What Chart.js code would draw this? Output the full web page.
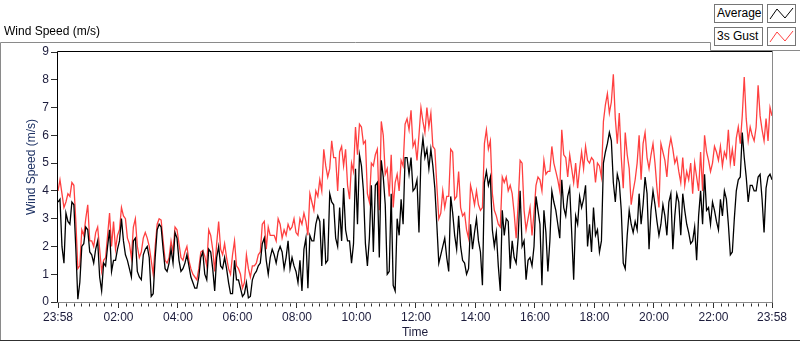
<!DOCTYPE html>
<html>
<head>
<meta charset="utf-8">
<script src="https://cdn.jsdelivr.net/npm/chart.js@4.4.1/dist/chart.umd.min.js"></script>
<style>
html, body { margin: 0; padding: 0; background: #fff; }
#wrap { position: relative; width: 800px; height: 342px; overflow: hidden; font-family: "Liberation Sans", Arial, sans-serif; }
#c { position: absolute; left: 0; top: 0; }
.lbl { position: absolute; font-size: 12px; color: #000; white-space: nowrap; line-height: 16px; }
.box { position: absolute; border: 1px solid #767676; background: #fff; box-sizing: border-box; }
.box.txt { font-size: 12px; line-height: 16px; padding-left: 2px; color: #000; }
.box svg { position: absolute; left: 0; top: 0; }
</style>
</head>
<body>
<div id="wrap">
  <canvas id="c" width="800" height="342"></canvas>
  <div class="lbl" style="left:4px;top:23px;">Wind Speed (m/s)</div>
  <div class="box txt" style="left:714px;top:4px;width:49px;height:19px;">Average</div>
  <div class="box" style="left:767px;top:4px;width:29px;height:19px;">
    <svg width="27" height="17"><polyline points="2,14 9,4 17,13 25,3" fill="none" stroke="#000" stroke-width="1"/></svg>
  </div>
  <div class="box txt" style="left:714px;top:27px;width:49px;height:19px;">3s Gust</div>
  <div class="box" style="left:767px;top:27px;width:29px;height:19px;">
    <svg width="27" height="17"><polyline points="2,14 9,4 17,13 25,3" fill="none" stroke="#ff4040" stroke-width="1"/></svg>
  </div>
</div>
<script>
"use strict";
// one sample every 4 minutes, from 23:58 (prev day) to 23:58
const START_MIN = -2;
const STEP_MIN = 4;

const avgSpeed = [
  3.6, 3.7, 2.0, 1.4, 3.2, 2.9, 2.8, 3.6, 3.5, 1.9,
  0.1, 0.7, 2.0, 2.1, 2.7, 2.6, 1.8, 1.7, 1.4, 1.9,
  2.2, 0.9, 0.4, 1.4, 1.3, 2.0, 2.6, 1.1, 1.5, 1.5,
  1.9, 2.2, 3.0, 2.2, 1.7, 1.5, 1.2, 0.9, 2.2, 2.3,
  1.1, 0.9, 0.8, 1.7, 1.9, 2.0, 1.6, 0.2, 0.3, 1.6,
  2.6, 2.8, 2.7, 1.9, 1.2, 1.1, 1.4, 1.9, 1.4, 2.5,
  2.3, 1.5, 1.1, 1.2, 1.4, 1.7, 1.3, 0.9, 0.7, 0.5,
  0.5, 0.9, 1.6, 1.8, 1.0, 0.8, 1.9, 1.8, 1.2, 0.4,
  1.6, 2.0, 1.3, 1.2, 1.6, 1.2, 0.7, 0.3, 0.3, 1.5,
  0.8, 0.8, 0.5, 0.2, 0.3, 0.7, 0.15, 0.2, 0.8, 1.0,
  1.1, 1.3, 1.4, 2.1, 2.3, 1.5, 1.0, 1.6, 1.9, 1.7,
  1.4, 1.8, 2.0, 1.8, 1.2, 1.6, 2.2, 1.2, 1.6, 1.3,
  1.1, 0.7, 1.5, 0.4, 1.9, 2.3, 0.5, 2.4, 2.2, 2.2,
  2.8, 3.1, 2.9, 1.3, 3.0, 1.4, 1.5, 3.9, 3.6, 3.5,
  2.3, 2.0, 3.4, 2.2, 4.1, 2.6, 2.2, 2.2, 1.4, 2.1,
  4.8, 2.8, 5.3, 4.9, 4.0, 2.1, 1.3, 2.3, 4.2, 1.8,
  4.2, 4.3, 1.6, 5.1, 4.5, 3.5, 1.0, 1.1, 3.9, 0.6,
  0.4, 3.0, 2.4, 3.7, 2.8, 5.2, 5.2, 4.6, 5.2, 4.0,
  4.1, 4.4, 2.5, 5.2, 5.9, 5.2, 5.5, 4.8, 5.5, 4.9,
  4.1, 2.8, 1.4, 1.7, 2.0, 2.3, 1.6, 1.1, 3.8, 3.2,
  2.4, 1.9, 3.1, 2.0, 1.5, 1.4, 1.0, 1.2, 2.8, 1.9,
  2.5, 3.0, 2.2, 1.8, 0.6, 4.3, 4.7, 4.2, 4.5, 2.6,
  2.0, 2.5, 1.3, 0.4, 3.3, 2.4, 3.0, 2.9, 1.2, 2.2,
  1.6, 1.4, 2.3, 4.0, 2.0, 2.2, 0.8, 1.5, 1.6, 1.3,
  2.0, 3.8, 3.3, 2.8, 0.6, 3.3, 2.5, 1.1, 2.2, 4.0,
  3.6, 3.3, 2.8, 2.3, 4.4, 3.4, 3.1, 3.8, 4.1, 2.5,
  0.8, 3.1, 2.8, 3.8, 3.4, 3.7, 4.2, 2.0, 2.8, 1.8,
  3.4, 2.4, 2.6, 1.8, 2.2, 5.0, 5.4, 5.7, 6.1, 5.8,
  4.3, 3.6, 4.6, 4.3, 3.3, 1.4, 1.2, 2.4, 3.3, 2.8,
  2.5, 2.9, 2.6, 3.9, 2.8, 3.5, 4.5, 3.9, 1.9, 3.3,
  4.0, 3.5, 2.9, 2.4, 2.8, 3.5, 3.1, 2.4, 3.6, 3.9,
  1.9, 3.1, 3.9, 3.6, 2.4, 3.9, 3.3, 2.8, 2.5, 2.1,
  2.2, 2.7, 1.5, 3.1, 4.0, 2.8, 4.6, 3.3, 3.4, 2.8,
  3.6, 3.3, 2.9, 2.6, 3.7, 3.1, 4.0, 3.7, 2.8, 1.7,
  1.8, 3.0, 4.0, 4.4, 4.5, 6.1, 5.2, 4.5, 3.6, 4.2,
  4.2, 4.0, 4.0, 4.5, 4.6, 3.7, 2.5, 4.1, 4.5, 4.6,
  4.4
];

const gustSpeed = [
  4.0, 4.4, 3.9, 3.4, 3.6, 3.9, 3.8, 4.3, 4.2, 2.9,
  1.2, 1.3, 2.6, 2.4, 3.0, 3.5, 2.2, 2.2, 2.0, 2.5,
  2.7, 1.9, 1.1, 1.5, 1.6, 2.4, 3.2, 2.0, 2.9, 1.9,
  2.4, 2.6, 3.4, 3.1, 3.0, 2.3, 2.1, 1.6, 2.7, 3.0,
  2.0, 1.6, 1.8, 2.3, 2.5, 2.3, 2.0, 1.5, 1.0, 2.0,
  2.8, 3.0, 2.95, 2.2, 1.5, 1.4, 1.6, 2.2, 1.8, 2.7,
  2.6, 2.1, 1.6, 1.5, 1.8, 2.0, 1.5, 1.2, 1.0, 0.9,
  0.8, 1.2, 1.8, 1.85, 1.65, 1.3, 2.6, 2.4, 1.9, 1.1,
  2.1, 2.9, 1.9, 1.7, 2.1, 1.6, 1.2, 1.0, 1.7, 2.2,
  1.3, 1.2, 1.0, 0.5, 0.7, 1.7, 1.2, 0.9, 1.3, 1.3,
  1.4, 1.7, 1.8, 2.8, 2.9, 1.9, 2.7, 2.4, 2.4, 2.4,
  2.2, 3.0, 2.8, 2.3, 2.6, 2.4, 2.8, 2.6, 2.7, 3.0,
  2.5, 2.4, 3.0, 2.8, 3.2, 2.9, 2.4, 3.9, 3.6, 3.3,
  4.0, 3.8, 4.4, 4.0, 5.5, 4.9, 4.5, 4.8, 5.8, 5.2,
  5.2, 4.0, 5.4, 5.6, 4.9, 5.5, 4.2, 3.7, 5.0, 4.7,
  6.3, 5.3, 6.4, 6.3, 5.7, 5.8, 3.9, 3.6, 5.0, 4.9,
  5.3, 5.5, 3.3, 6.5, 6.0, 4.6, 4.8, 3.8, 5.3, 3.4,
  4.3, 4.6, 4.0, 5.1, 4.9, 6.4, 6.6, 6.2, 6.9, 5.6,
  5.8, 5.1, 6.0, 7.0, 6.5, 6.1, 7.0, 6.3, 6.8, 5.6,
  5.5, 4.2, 3.0, 3.2, 4.0, 3.4, 3.8, 3.8, 5.5, 5.4,
  3.7, 3.8, 4.7, 3.4, 3.1, 3.2, 2.6, 2.3, 4.2, 3.9,
  3.5, 4.0, 3.5, 3.3, 3.4, 5.7, 6.2, 5.5, 5.8, 3.9,
  3.3, 3.1, 2.8, 2.7, 4.5, 4.3, 4.5, 4.0, 4.2, 3.9,
  3.2, 2.3, 3.5, 5.1, 5.0, 3.3, 2.6, 3.0, 3.4, 2.4,
  3.2, 4.2, 4.5, 4.4, 4.0, 5.1, 4.6, 4.7, 4.7, 5.6,
  5.0, 4.7, 4.4, 4.0, 6.2, 5.3, 5.2, 4.5, 5.3, 4.8,
  4.3, 5.0, 4.1, 4.8, 5.4, 4.8, 5.6, 5.1, 5.0, 5.2,
  5.1, 4.3, 5.0, 4.9, 4.5, 6.5, 7.1, 7.5, 6.8, 7.2,
  8.2, 6.6, 5.7, 6.8, 5.2, 4.1, 6.1, 5.3, 4.8, 3.5,
  4.0, 4.4, 5.0, 6.0, 4.4, 5.7, 6.1, 5.2, 4.8, 5.3,
  5.7, 5.0, 4.1, 3.4, 5.7, 5.4, 5.1, 4.5, 5.5, 5.9,
  5.5, 5.0, 5.2, 4.7, 4.3, 5.2, 4.2, 4.7, 4.4, 5.0,
  3.9, 5.0, 4.5, 4.0, 5.4, 4.0, 6.0, 5.4, 5.1, 4.7,
  5.0, 5.6, 5.4, 5.1, 5.6, 4.9, 5.4, 5.2, 6.2, 5.0,
  5.5, 4.9, 5.9, 6.3, 5.7, 6.7, 8.1, 6.6, 5.8, 6.3,
  6.0, 5.8, 6.3, 7.8, 6.7, 6.2, 5.8, 6.6, 5.8, 7.0,
  6.7
];

const tickMinutes = [-2, 120, 240, 360, 480, 600, 720, 840, 960, 1080, 1200, 1320, 1438];
const tickLabels = ["23:58", "02:00", "04:00", "06:00", "08:00", "10:00", "12:00", "14:00", "16:00", "18:00", "20:00", "22:00", "23:58"];
const yTicks = [0, 1, 2, 3, 4, 5, 6, 7, 8, 9];

const times = avgSpeed.map((_, i) => START_MIN + i * STEP_MIN);
const toPoints = arr => arr.map((v, i) => ({ x: times[i], y: v }));

const FONT = "'Liberation Sans', Arial, sans-serif";
const TICK_COLOR = "#1c1c3c";

// frame lines, y title and minor time ticks, LabVIEW style
const framePlugin = {
  id: "frame",
  afterDraw(chart) {
    const { ctx, chartArea: a } = chart;
    const xs = chart.scales.x;
    ctx.save();
    ctx.lineWidth = 1;
    // outer panel
    ctx.strokeStyle = "#8a8a8a";
    ctx.beginPath();
    ctx.moveTo(0.5, 341);
    ctx.lineTo(0.5, 42.5);
    ctx.lineTo(710.5, 42.5);
    ctx.lineTo(710.5, 50.5);
    ctx.lineTo(800, 50.5);
    ctx.stroke();
    ctx.strokeStyle = "#303030";
    ctx.beginPath();
    ctx.moveTo(0, 340.5);
    ctx.lineTo(800, 340.5);
    ctx.stroke();
    // plot area border
    const l = Math.round(a.left) - 0.5, t = Math.round(a.top) - 0.5;
    const r = Math.round(a.right) + 0.5, b = Math.round(a.bottom) + 0.5;
    ctx.strokeStyle = "#000";
    ctx.beginPath();
    ctx.moveTo(l, b);
    ctx.lineTo(l, t);
    ctx.lineTo(r, t);
    ctx.stroke();
    ctx.strokeStyle = "#8a8a8a";
    ctx.beginPath();
    ctx.moveTo(r, t);
    ctx.lineTo(r, b);
    ctx.lineTo(l, b);
    ctx.stroke();
    // minor ticks every 15 minutes
    ctx.strokeStyle = "#303030";
    ctx.beginPath();
    for (let m = 0; m < 1438; m += 15) {
      if (tickMinutes.some(tm => Math.abs(tm - m) < 5)) continue;
      const px = Math.round(xs.getPixelForValue(m)) + 0.5;
      ctx.moveTo(px, b + 1);
      ctx.lineTo(px, b + 4);
    }
    ctx.stroke();
    // y axis title
    ctx.translate(32, 167);
    ctx.rotate(-Math.PI / 2);
    ctx.fillStyle = "#1e3264";
    ctx.font = "12px " + FONT;
    ctx.textAlign = "center";
    ctx.textBaseline = "middle";
    ctx.fillText("Wind Speed (m/s)", 0, 0);
    ctx.restore();
  }
};

const ctx = document.getElementById("c").getContext("2d");
new Chart(ctx, {
  type: "line",
  data: {
    datasets: [
      { label: "Average", data: toPoints(avgSpeed), borderColor: "#000000", borderWidth: 1.3, pointRadius: 0, tension: 0, fill: false },
      { label: "3s Gust", data: toPoints(gustSpeed), borderColor: "#ff4040", borderWidth: 1.3, pointRadius: 0, tension: 0, fill: false }
    ]
  },
  options: {
    responsive: false,
    animation: false,
    events: [],
    layout: { padding: { top: 52, right: 28, left: 0, bottom: 0 } },
    plugins: { legend: { display: false }, tooltip: { enabled: false } },
    scales: {
      x: {
        type: "linear",
        min: -2,
        max: 1438,
        afterBuildTicks: s => { s.ticks = tickMinutes.map(v => ({ value: v })); },
        afterFit: s => { s.height = 40; },
        ticks: {
          autoSkip: false,
          maxRotation: 0,
          padding: 2,
          color: TICK_COLOR,
          font: { family: FONT, size: 12 },
          callback: (v, i) => tickLabels[i]
        },
        grid: { drawOnChartArea: false, tickLength: 6, tickColor: "#303030" },
        border: { display: false },
        title: { display: true, text: "Time", color: TICK_COLOR, font: { family: FONT, size: 12 }, padding: { top: 0, bottom: 2 } }
      },
      y: {
        min: 0,
        max: 9,
        afterBuildTicks: s => { s.ticks = yTicks.map(v => ({ value: v })); },
        afterFit: s => { s.width = 58; },
        ticks: { padding: 2, color: TICK_COLOR, font: { family: FONT, size: 12 } },
        grid: { drawOnChartArea: false, tickLength: 7, tickColor: "#303030" },
        border: { display: false },
        title: { display: false }
      }
    }
  },
  plugins: [framePlugin]
});
</script>
</body>
</html>
